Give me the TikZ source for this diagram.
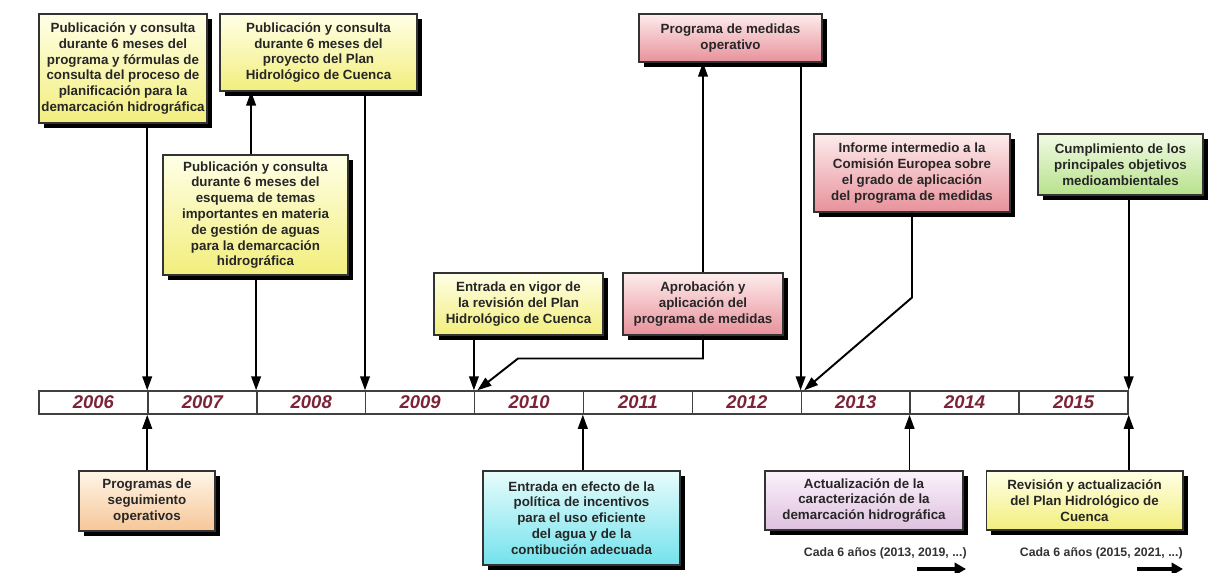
\documentclass[tikz,border=0pt]{standalone}
\usepackage{fontspec}
\setmainfont{Liberation Sans}
\usepackage{tikz}
\usetikzlibrary{arrows.meta,positioning,shadows,calc}
\definecolor{yeltop}{RGB}{255,255,230}
\definecolor{yelbot}{RGB}{242,238,125}
\definecolor{pinktop}{RGB}{253,236,236}
\definecolor{pinkbot}{RGB}{232,145,155}
\definecolor{greentop}{RGB}{242,250,228}
\definecolor{greenbot}{RGB}{182,226,140}
\definecolor{cyantop}{RGB}{232,252,252}
\definecolor{cyanbot}{RGB}{115,226,236}
\definecolor{orgtop}{RGB}{255,246,232}
\definecolor{orgbot}{RGB}{246,198,152}
\definecolor{lavtop}{RGB}{251,242,251}
\definecolor{lavbot}{RGB}{222,192,222}
\definecolor{yearred}{RGB}{125,35,55}
\tikzset{
  box/.style={draw=black!80, line width=0.6pt, align=center, inner sep=0pt,
    font=\fontsize{7.6}{9}\selectfont\bfseries, text=black!85,
    drop shadow={shadow xshift=2.6pt, shadow yshift=-2.6pt, opacity=1, fill=black}},
  yelbox/.style={box, top color=yeltop, bottom color=yelbot},
  pinkbox/.style={box, top color=pinktop, bottom color=pinkbot},
  greenbox/.style={box, top color=greentop, bottom color=greenbot},
  cyanbox/.style={box, top color=cyantop, bottom color=cyanbot},
  orgbox/.style={box, top color=orgtop, bottom color=orgbot},
  lavbox/.style={box, top color=lavtop, bottom color=lavbot},
  yearcell/.style={draw=black!75, line width=0.8pt, fill=white, inner sep=0pt,
    minimum width=2.178cm, minimum height=0.46cm,
    font=\fontsize{10.5}{12}\selectfont\bfseries\itshape, text=yearred},
  conn/.style={line width=1.1pt, -{Triangle[length=8pt,width=5.5pt]}},
  cada/.style={font=\fontsize{7}{8}\selectfont\bfseries, text=black!80, inner sep=0pt},
  fat/.style={line width=2.8pt, -{Triangle[length=6.5pt,width=7pt]}}
}

\begin{document}
\begin{tikzpicture}[x=0.02cm, y=-0.02cm]
\useasboundingbox (0,0) rectangle (1211,572);
\fill[white] (0,0) rectangle (1211,572);
% time bar
\foreach \yr [count=\i from 0] in {2006,...,2015} {
  \node[yearcell] (y\yr) at ({93.45+108.9*\i}, 402.5) {\yr};
}
% upper boxes
\node[yelbox, minimum width=3.36cm, minimum height=2.18cm] (A) at (123,68.5)
  {Publicación y consulta\\durante 6 meses del\\programa y fórmulas de\\consulta del proceso de\\planificación para la\\demarcación hidrográfica};
\node[yelbox, minimum width=3.94cm, minimum height=1.54cm] (B) at (318.5,52.5)
  {Publicación y consulta\\durante 6 meses del\\proyecto del Plan\\Hidrológico de Cuenca};
\node[yelbox, minimum width=3.7cm, minimum height=2.4cm] (C) at (255.5,215)
  {Publicación y consulta\\durante 6 meses del\\esquema de temas\\importantes en materia\\de gestión de aguas\\para la demarcación\\hidrográfica};
\node[yelbox, minimum width=3.38cm, minimum height=1.24cm] (D) at (518.5,304)
  {Entrada en vigor de\\la revisión del Plan\\Hidrológico de Cuenca};
\node[pinkbox, minimum width=3.2cm, minimum height=1.24cm] (E) at (703,304)
  {Aprobación y\\aplicación del\\programa de medidas};
\node[pinkbox, minimum width=3.66cm, minimum height=0.96cm] (F) at (730.5,38)
  {Programa de medidas\\operativo};
\node[pinkbox, minimum width=3.92cm, minimum height=1.56cm] (G) at (912,173)
  {Informe intermedio a la\\Comisión Europea sobre\\el grado de aplicación\\del programa de medidas};
\node[greenbox, minimum width=3.3cm, minimum height=1.22cm] (H) at (1120.5,164.5)
  {Cumplimiento de los\\principales objetivos\\medioambientales};
% lower boxes
\node[orgbox, minimum width=2.72cm, minimum height=1.2cm] (I) at (147,501)
  {Programas de\\seguimiento\\operativos};
\node[cyanbox, minimum width=3.94cm, minimum height=1.88cm] (J) at (581.5,518)
  {Entrada en efecto de la\\política de incentivos\\para el uso eficiente\\del agua y de la\\contibución adecuada};
\node[lavbox, minimum width=3.96cm, minimum height=1.18cm] (K) at (864,500.5)
  {Actualización de la\\caracterización de la\\demarcación hidrográfica};
\node[yelbox, minimum width=3.94cm, minimum height=1.18cm] (L) at (1084.5,500.5)
  {Revisión y actualización\\del Plan Hidrológico de\\Cuenca};
% arrows onto the bar from above
\draw[conn] (A.south -| y2007.north west) -- (y2007.north west);
\draw[conn] (B.south -| y2009.north west) -- (y2009.north west);
\draw[conn] (C.south -| y2008.north west) -- (y2008.north west);
\draw[conn] ([xshift=-2.5pt]C.north) -- ([xshift=-2.5pt]C.north |- B.south);
\draw[conn] (D.south -| y2010.north west) -- (y2010.north west);
\draw[conn] (E.south) -- ++(0,23) -- ++(-185,0) -- ([xshift=2pt]y2010.north west);
\draw[conn] (E.north) -- (E.north |- F.south);
\draw[conn] (F.south -| y2013.north west) -- (y2013.north west);
\draw[conn] (G.south) -- ++(0,85) -- ([xshift=2pt]y2013.north west);
\draw[conn] (H.south -| y2015.north east) -- (y2015.north east);
% arrows onto the bar from below
\draw[conn] (I.north -| y2007.south west) -- (y2007.south west);
\draw[conn] (J.north -| y2011.south west) -- (y2011.south west);
\draw[conn] (K.north -| y2014.south west) -- (y2014.south west);
\draw[conn] (L.north -| y2015.south east) -- (y2015.south east);
% repeat notes
\node[cada, anchor=east] (cada1) at (967,553) {Cada 6 años (2013, 2019, ...)};
\node[cada, anchor=east] (cada2) at (1183,553) {Cada 6 años (2015, 2021, ...)};
\coordinate (f1s) at (917,569);
\coordinate (f1e) at (966,569);
\coordinate (f2s) at (1137,569);
\coordinate (f2e) at (1183,569);
\draw[fat] (f1s) -- (f1e);
\draw[fat] (f2s) -- (f2e);
\end{tikzpicture}
\end{document}
